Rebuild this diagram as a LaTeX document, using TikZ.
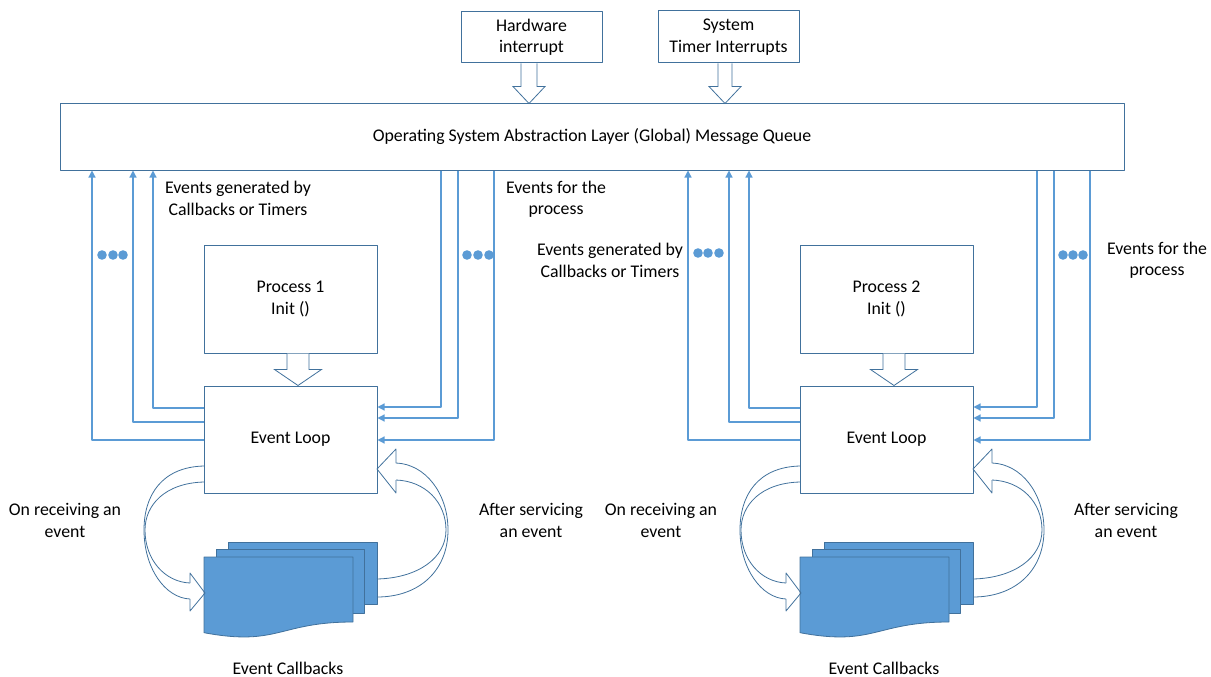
\documentclass[tikz,border=0pt]{standalone}
\usepackage{fontspec}
\setmainfont{Carlito}
\usetikzlibrary{arrows.meta}
\definecolor{boxblue}{RGB}{65,113,156}
\definecolor{lineblue}{RGB}{91,155,213}
\definecolor{docblue}{RGB}{91,155,213}

\tikzset{
  box/.style={draw=boxblue,line width=1pt,fill=white,inner sep=0pt,align=center},
  lbl/.style={align=center,inner sep=0pt},
  evline/.style={draw=lineblue,line width=1.2pt,-{Triangle[length=7pt,width=7pt]}},
  blockarrow/.style={draw=boxblue,line width=0.8pt,fill=white,line join=miter},
  bendarrow/.style={draw=boxblue,line width=0.8pt},
  page/.style={draw=boxblue,line width=0.8pt,fill=docblue},
}

\begin{document}
\begin{tikzpicture}[x=1pt,y=-1pt,font=\fontsize{17.8}{21.5}\selectfont,line join=round]
  \useasboundingbox (0,0) rectangle (1211,677);
  % sources and global queue
  \node[box,minimum width=141pt,minimum height=51pt] (hw) at (531.5,37.5) {Hardware\\interrupt};
  \node[box,minimum width=141pt,minimum height=52pt] (tmr) at (728.5,37) {System\\Timer Interrupts};
  \node[box,minimum width=1064pt,minimum height=66pt] (queue) at (592,137) {Operating System Abstraction Layer (Global) Message Queue};
  \draw[blockarrow] ([xshift=-10.5pt]hw.south) -- ++(0,23) -- ++(-8,0) -- ++(16,17) -- ++(16,-17) -- ++(-8,0) -- ([xshift=5.5pt]hw.south);
  \draw[blockarrow] ([xshift=-10.5pt]tmr.south) -- ++(0,23) -- ++(-9,0) -- ++(16,17) -- ++(16,-17) -- ++(-9,0) -- ([xshift=3.5pt]tmr.south);

  % process 1
  \node[box,minimum width=173pt,minimum height=108pt] (p1) at (290.5,299) {Process 1\\Init ()};
  \node[box,minimum width=173pt,minimum height=107pt] (el1) at (290.5,439.5) {Event Loop};
  \draw[blockarrow] ([xshift=-3.5pt]p1.south) -- ++(0,16) -- ++(-12.5,0) -- ++(23.5,16) -- ++(23.5,-16) -- ++(-12.5,0) -- ([xshift=18.5pt]p1.south);
  \draw[evline] (el1.west |- 0,408) -| (153,0 |- queue.south);
  \draw[evline] (el1.west |- 0,422) -| (133,0 |- queue.south);
  \draw[evline] (el1.west |- 0,440) -| (92,0 |- queue.south);
  \draw[evline] (441,0 |- queue.south) |- (el1.east |- 0,407);
  \draw[evline] (458,0 |- queue.south) |- (el1.east |- 0,418);
  \draw[evline] (494,0 |- queue.south) |- (el1.east |- 0,440);
  \fill[docblue] (102,255) circle (4.8pt) (113,255) circle (4.8pt) (123,255) circle (4.8pt);
  \fill[docblue] (467,255) circle (4.8pt) (478,255) circle (4.8pt) (489,255) circle (4.8pt);
  \node[lbl] (gen1) at (238,198.5) {Events generated by\\Callbacks or Timers};
  \node[lbl] (for1) at (556,199.5) {Events for the\\process};
  % callbacks 1
  \draw[page] (228,542) rectangle (377,604);
  \draw[page] (216,549) rectangle (364,613);
  \draw[page] (204,557) -- (353,557) -- (353,622) .. controls (278.5,622) and (278.5,646.6) .. (204,632.7) -- cycle;
  \draw[bendarrow] (204,466) .. controls (162,467) and (144,495) .. (144,530) .. controls (144,568) and (165,598) .. (190,599);
  \draw[bendarrow] (204,482) .. controls (165,483) and (145,505) .. (145,530) .. controls (145,560) and (165,582) .. (190,583);
  \draw[bendarrow] (190,583) -- (190,573) -- (205,593) -- (190,611) -- (190,599);
  \draw[bendarrow] (377,597) .. controls (420,597) and (448,570) .. (448,530) .. controls (448,493) and (425,464) .. (396,463);
  \draw[bendarrow] (377,579) .. controls (418,578) and (446,558) .. (446,530) .. controls (446,502) and (425,481) .. (396,480);
  \draw[bendarrow] (396,463) -- (396,449) -- (377,469) -- (396,493) -- (396,480);
  \node[lbl] (recv1) at (65,520.5) {On receiving an\\event};
  \node[lbl] (serv1) at (531,520.5) {After servicing\\an event};
  \node[lbl] (cb1) at (288,668) {Event Callbacks};

  % process 2
  \node[box,minimum width=173pt,minimum height=108pt] (p2) at (886.5,299) {Process 2\\Init ()};
  \node[box,minimum width=173pt,minimum height=107pt] (el2) at (886.5,439.5) {Event Loop};
  \draw[blockarrow] ([xshift=-3.5pt]p2.south) -- ++(0,16) -- ++(-12.5,0) -- ++(23.5,16) -- ++(23.5,-16) -- ++(-12.5,0) -- ([xshift=18.5pt]p2.south);
  \draw[evline] (el2.west |- 0,408) -| (749,0 |- queue.south);
  \draw[evline] (el2.west |- 0,422) -| (729,0 |- queue.south);
  \draw[evline] (el2.west |- 0,440) -| (688,0 |- queue.south);
  \draw[evline] (1037,0 |- queue.south) |- (el2.east |- 0,407);
  \draw[evline] (1054,0 |- queue.south) |- (el2.east |- 0,418);
  \draw[evline] (1090,0 |- queue.south) |- (el2.east |- 0,440);
  \fill[docblue] (698,253) circle (4.8pt) (708,253) circle (4.8pt) (719,253) circle (4.8pt);
  \fill[docblue] (1063,255) circle (4.8pt) (1073,255) circle (4.8pt) (1083,255) circle (4.8pt);
  \node[lbl] (gen2) at (610,260.5) {Events generated by\\Callbacks or Timers};
  \node[lbl] (for2) at (1157,260.5) {Events for the\\process};
  % callbacks 2
  \draw[page] (824,542) rectangle (973,604);
  \draw[page] (812,549) rectangle (960,613);
  \draw[page] (800,557) -- (949,557) -- (949,622) .. controls (874.5,622) and (874.5,646.6) .. (800,632.7) -- cycle;
  \draw[bendarrow] (800,466) .. controls (758,467) and (740,495) .. (740,530) .. controls (740,568) and (761,598) .. (786,599);
  \draw[bendarrow] (800,482) .. controls (761,483) and (741,505) .. (741,530) .. controls (741,560) and (761,582) .. (786,583);
  \draw[bendarrow] (786,583) -- (786,573) -- (801,593) -- (786,611) -- (786,599);
  \draw[bendarrow] (973,597) .. controls (1016,597) and (1044,570) .. (1044,530) .. controls (1044,493) and (1021,464) .. (992,463);
  \draw[bendarrow] (973,579) .. controls (1014,578) and (1042,558) .. (1042,530) .. controls (1042,502) and (1021,481) .. (992,480);
  \draw[bendarrow] (992,463) -- (992,449) -- (973,469) -- (992,493) -- (992,480);
  \node[lbl] (recv2) at (661,520.5) {On receiving an\\event};
  \node[lbl] (serv2) at (1126,520.5) {After servicing\\an event};
  \node[lbl] (cb2) at (884,668) {Event Callbacks};
\end{tikzpicture}
\end{document}
